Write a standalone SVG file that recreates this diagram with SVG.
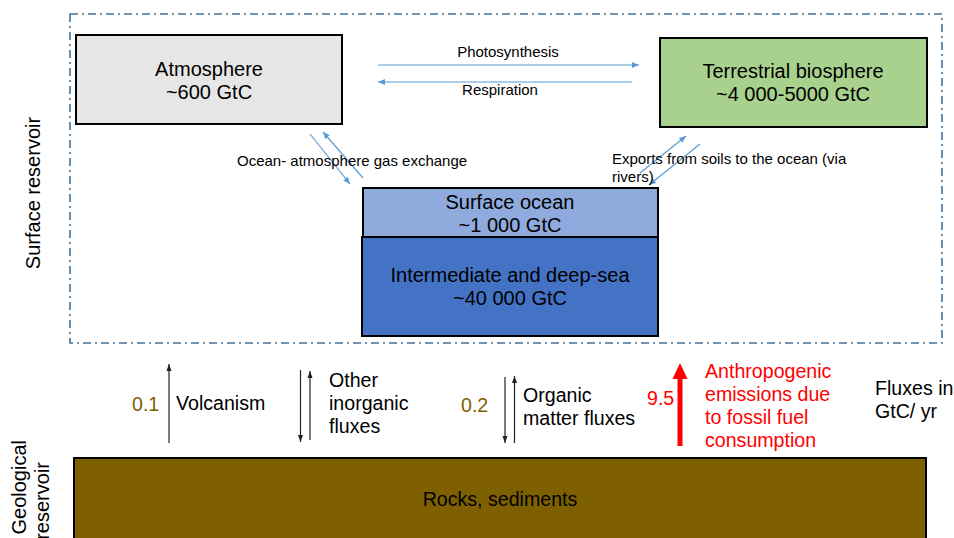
<svg xmlns="http://www.w3.org/2000/svg" width="954" height="538" viewBox="0 0 954 538">
<style>
text{font-family:"Liberation Sans",Arial,sans-serif;fill:#000}
.box{stroke:#000;stroke-width:2}
.big{font-size:20px}
.mid{font-size:19.6px}
.side{font-size:20px}
.sm{font-size:15px}
.num{fill:#7f6000;font-size:19.6px}
.red{fill:#ff0000;font-size:19.6px}
.blue{stroke:#5b9bd5;stroke-width:1.2;fill:none}
.blk{stroke:#222;stroke-width:1.2;fill:none}
</style>
<defs>
<marker id="ab" markerUnits="userSpaceOnUse" markerWidth="8" markerHeight="6" refX="7" refY="3" orient="auto"><path d="M0,0 L7,3 L0,6 z" fill="#5b9bd5"/></marker>
<marker id="ak" markerUnits="userSpaceOnUse" markerWidth="8" markerHeight="6" refX="7" refY="3" orient="auto"><path d="M0,0.5 L7,3 L0,5.5 z" fill="#222"/></marker>
</defs>
<rect width="954" height="538" fill="#fff"/>
<g id="surface-reservoir">
<rect x="70" y="14" width="872" height="329" fill="none" stroke="#41719c" stroke-width="1.6" stroke-dasharray="8,4,2,4"/>
<text class="side" transform="translate(40,193) rotate(-90)" text-anchor="middle">Surface reservoir</text>
</g>
<g id="atmosphere">
<rect class="box" x="76" y="35" width="266" height="89" fill="#e7e6e6"/>
<text class="big" x="209" y="76" text-anchor="middle">Atmosphere</text>
<text class="big" x="209" y="99" text-anchor="middle">~600 GtC</text>
</g>
<g id="terrestrial">
<rect class="box" x="660" y="38" width="267" height="89" fill="#a9d18e"/>
<text class="big" x="793" y="78" text-anchor="middle">Terrestrial biosphere</text>
<text class="big" x="793" y="101" text-anchor="middle">~4 000-5000 GtC</text>
</g>
<g id="deep-sea">
<rect class="box" x="362" y="237" width="296" height="99" fill="#4472c4"/>
<text class="big" x="510" y="282" text-anchor="middle">Intermediate and deep-sea</text>
<text class="big" x="510" y="305" text-anchor="middle">~40 000 GtC</text>
</g>
<g id="surface-ocean">
<rect class="box" x="363" y="188" width="295" height="49" fill="#8faadc"/>
<text class="big" x="510" y="209" text-anchor="middle">Surface ocean</text>
<text class="big" x="510" y="232" text-anchor="middle">~1 000 GtC</text>
</g>
<g id="rocks">
<rect class="box" x="74" y="458" width="852" height="90" fill="#7f6000"/>
<text class="mid" x="500" y="506" text-anchor="middle">Rocks, sediments</text>
<text class="side" transform="translate(26,440) rotate(-90)" text-anchor="end">Geological</text>
<text class="side" transform="translate(49,462) rotate(-90)" text-anchor="end">reservoir</text>
</g>
<g id="connectors">
<line class="blue" x1="378" y1="65" x2="639" y2="65" marker-end="url(#ab)"/>
<line class="blue" x1="632" y1="82" x2="378" y2="82" marker-end="url(#ab)"/>
<line class="blue" x1="310" y1="134" x2="350" y2="184" marker-end="url(#ab)"/>
<line class="blue" x1="363" y1="178" x2="323" y2="132" marker-end="url(#ab)"/>
<line class="blue" x1="640" y1="173" x2="686" y2="136" marker-end="url(#ab)"/>
<line class="blue" x1="700" y1="144" x2="649" y2="185" marker-end="url(#ab)"/>
<line class="blk" x1="169" y1="443" x2="169" y2="364" marker-end="url(#ak)"/>
<line class="blk" x1="300.5" y1="370" x2="300.5" y2="442" marker-end="url(#ak)"/>
<line class="blk" x1="310" y1="440" x2="310" y2="371" marker-end="url(#ak)"/>
<line class="blk" x1="505" y1="377" x2="505" y2="443" marker-end="url(#ak)"/>
<line class="blk" x1="514.5" y1="443" x2="514.5" y2="376" marker-end="url(#ak)"/>
<line x1="680" y1="446" x2="680" y2="376" stroke="#ff0000" stroke-width="5"/>
<polygon points="680,363 672.5,379 687.5,379" fill="#ff0000"/>
</g>
<g id="labels">
<text class="sm" x="508" y="57" text-anchor="middle">Photosynthesis</text>
<text class="sm" x="500" y="95" text-anchor="middle">Respiration</text>
<text class="sm" x="237" y="166">Ocean- atmosphere gas exchange</text>
<text class="sm" x="612" y="164">Exports from soils to the ocean (via</text>
<text class="sm" x="612" y="182">rivers)</text>
<text class="num" x="132" y="411">0.1</text>
<text class="mid" x="176" y="410">Volcanism</text>
<text class="mid" x="329" y="387">Other</text>
<text class="mid" x="329" y="410">inorganic</text>
<text class="mid" x="329" y="433">fluxes</text>
<text class="num" x="461" y="412">0.2</text>
<text class="mid" x="523" y="402">Organic</text>
<text class="mid" x="523" y="425">matter fluxes</text>
<text class="red" x="647" y="405">9.5</text>
<text class="red" x="705" y="378">Anthropogenic</text>
<text class="red" x="705" y="401">emissions due</text>
<text class="red" x="705" y="424">to fossil fuel</text>
<text class="red" x="705" y="447">consumption</text>
<text class="mid" x="875" y="395">Fluxes in</text>
<text class="mid" x="875" y="418">GtC/ yr</text>
</g>
</svg>
